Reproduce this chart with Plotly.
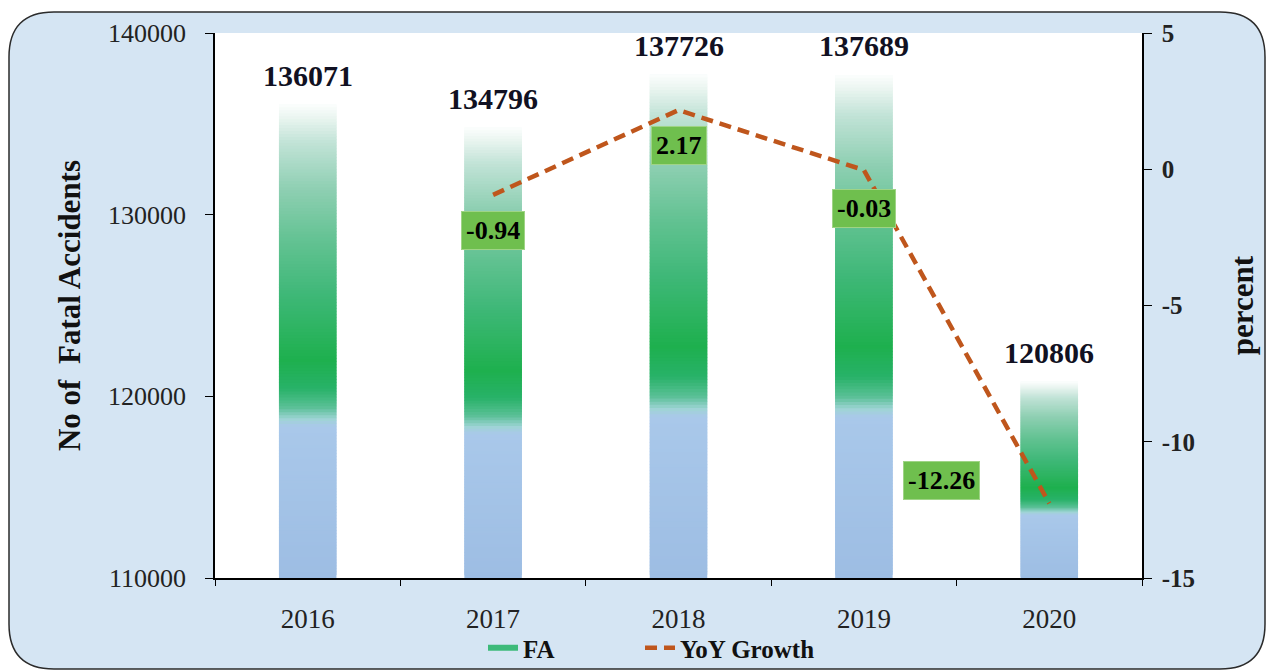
import plotly.graph_objects as go

# ---------------- data ----------------
years = ["2016", "2017", "2018", "2019", "2020"]
fatal_accidents = [136071, 134796, 137726, 137689, 120806]
yoy_growth = [None, -0.94, 2.17, -0.03, -12.26]
left_ticks = [110000, 120000, 130000, 140000]
right_ticks = [-15, -10, -5, 0, 5]
right_tick_text = ["-15", "-10", "-5", "0", "5"]

# ---------------- style ----------------
W, H = 1273, 670
ML, MR, MT, MB = 215, 131, 33, 92
PW, PH = W - ML - MR, H - MT - MB
FONT = "Liberation Serif, Times New Roman, serif"
Y_BASE = 110000
N_SLICES = 160
# gradient stops: fraction of bar height from bottom -> colour
grad_stops = [
    (0.00, (157, 189, 227)),
    (0.32, (169, 200, 234)),
    (0.335, (160, 212, 214)),
    (0.36, (90, 192, 150)),
    (0.40, (40, 178, 104)),
    (0.46, (30, 176, 78)),
    (0.60, (63, 184, 120)),
    (0.71, (98, 194, 146)),
    (0.82, (142, 207, 178)),
    (0.92, (194, 227, 215)),
    (0.975, (236, 246, 242)),
    (1.00, (252, 254, 253)),
]
label_offsets = [None, (0, -36), (0, -35), (0, -38), (-108, 23)]


def grad_color(f):
    for (f0, c0), (f1, c1) in zip(grad_stops[:-1], grad_stops[1:]):
        if f0 <= f <= f1:
            t = 0 if f1 == f0 else (f - f0) / (f1 - f0)
            c = [round(a + (b - a) * t) for a, b in zip(c0, c1)]
            return f"rgb({c[0]},{c[1]},{c[2]})"
    c = grad_stops[-1][1]
    return f"rgb({c[0]},{c[1]},{c[2]})"


# build gradient bars as stacked slices from the data values
bx, by, bbase, bcol = [], [], [], []
for k in range(N_SLICES):
    f = (k + 0.5) / N_SLICES
    for yr, v in zip(years, fatal_accidents):
        h = (v - Y_BASE) / N_SLICES
        b = Y_BASE + k * h
        hh = min(h * 2.2, v - b)
        bx.append(yr)
        by.append(hh)
        bbase.append(b)
        bcol.append(grad_color(f))

fig = go.Figure()
fig.add_trace(go.Bar(
    x=bx, y=by, base=bbase, width=0.31,
    marker=dict(color=bcol, line=dict(width=0)),
    showlegend=False, hoverinfo="skip", yaxis="y",
))
# legend entry for FA
fig.add_trace(go.Scatter(
    x=[None], y=[None], mode="lines", name="FA",
    line=dict(color="#3dba7a", width=6), yaxis="y", legend="legend",
))
fig.add_trace(go.Scatter(
    x=years, y=yoy_growth, mode="lines", name="YoY Growth",
    line=dict(color="#bf561c", width=4.5, dash="12px,7px"),
    yaxis="y2", connectgaps=False, legend="legend2", hoverinfo="skip",
))

annotations = []
for i, v in enumerate(fatal_accidents):
    annotations.append(dict(
        x=i, y=v, xref="x", yref="y", text=f"<b>{v}</b>", showarrow=False,
        yshift=29, font=dict(family=FONT, size=30, color="#111122"),
    ))
for i, (g, off) in enumerate(zip(yoy_growth, label_offsets)):
    if g is None:
        continue
    annotations.append(dict(
        x=i, y=g, xref="x", yref="y2", text=f"<b>{g:.2f}</b>", showarrow=False,
        xshift=off[0], yshift=off[1],
        bgcolor="#6fbf4e", bordercolor="#9fd486", borderwidth=1, borderpad=4,
        font=dict(family=FONT, size=26, color="#000000"),
    ))


def P(x, y):
    return f"{(x - ML) / PW:.5f},{(H - MB - y) / PH:.5f}"


L, R, T, B, r = 9, 1265, 12, 669, 45
border = (f"M {P(L + r, T)} L {P(R - r, T)} Q {P(R, T)} {P(R, T + r)} "
          f"L {P(R, B - r)} Q {P(R, B)} {P(R - r, B)} L {P(L + r, B)} "
          f"Q {P(L, B)} {P(L, B - r)} L {P(L, T + r)} Q {P(L, T)} {P(L + r, T)} Z")

shapes = [
    dict(type="path", xref="paper", yref="paper", path=border,
         fillcolor="#d5e5f3", line=dict(color="#2b2b2b", width=1.5), layer="below"),
    dict(type="rect", xref="paper", yref="paper", x0=0, x1=1, y0=0, y1=1,
         fillcolor="#ffffff", line=dict(width=0), layer="below"),
]

legend_font = dict(family=FONT, size=25, color="#111111", weight="bold")
legend_y = (H - MB - 648) / PH

fig.update_layout(
    width=W, height=H,
    margin=dict(l=ML, r=MR, t=MT, b=MB, autoexpand=False),
    paper_bgcolor="#ffffff", plot_bgcolor="#ffffff",
    barmode="overlay",
    font=dict(family=FONT, color="#222222"),
    hovermode=False,
    xaxis=dict(
        type="category", categoryorder="array", categoryarray=years,
        range=[-0.5, 4.5], showline=True, linecolor="#000000", linewidth=1.5,
        ticks="outside", tickson="boundaries", ticklen=6, tickcolor="#000000",
        showgrid=False, zeroline=False, ticklabelstandoff=16,
        tickfont=dict(family=FONT, size=27, color="#222222"),
    ),
    yaxis=dict(
        range=[110000, 140000], tickvals=left_ticks, tickformat="d",
        showline=True, linecolor="#000000", linewidth=1.5,
        ticks="outside", ticklen=8, tickcolor="#000000", showgrid=False, zeroline=False,
        ticklabelstandoff=14,
        tickfont=dict(family=FONT, size=26, color="#222222"),
        title=dict(text="No of\u00a0 Fatal Accidents", standoff=18,
                   font=dict(family=FONT, size=31, color="#111111", weight="bold")),
    ),
    yaxis2=dict(
        range=[-15, 5], tickvals=right_ticks, ticktext=right_tick_text,
        overlaying="y", side="right", showline=True, linecolor="#000000", linewidth=1.5,
        ticks="outside", ticklen=8, tickcolor="#000000", showgrid=False, zeroline=False,
        ticklabelstandoff=5,
        tickfont=dict(family=FONT, size=25, color="#222222", weight="bold"),
        title=dict(text="percent", standoff=37,
                   font=dict(family=FONT, size=31, color="#111111", weight="bold")),
    ),
    legend=dict(
        orientation="h", x=(483 - ML) / PW, xanchor="left",
        y=legend_y, yanchor="middle",
        bgcolor="rgba(0,0,0,0)", font=legend_font,
    ),
    legend2=dict(
        orientation="h", x=(640 - ML) / PW, xanchor="left",
        y=legend_y, yanchor="middle",
        bgcolor="rgba(0,0,0,0)", font=legend_font,
    ),
    annotations=annotations,
    shapes=shapes,
)

fig.write_html(
    "out.html",
    config={"displayModeBar": False},
    post_script="document.body.style.margin='0px';",
)
